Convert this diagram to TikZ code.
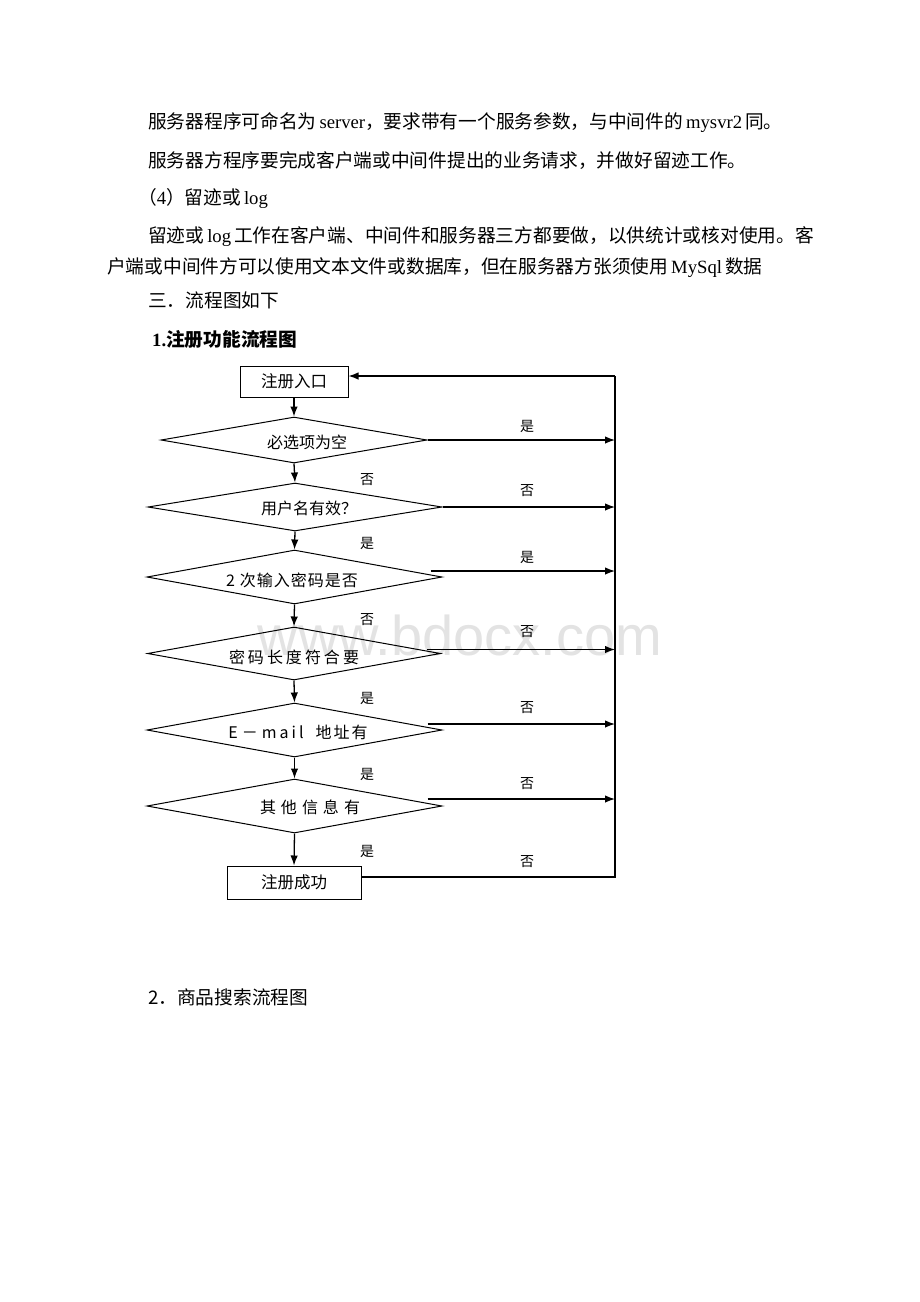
\documentclass[tikz,border=0pt]{standalone}
\usepackage{fontspec}
\setmainfont{Liberation Serif}
\newfontfamily\cjk{Noto Sans CJK SC}
\newfontfamily\wmfont{Liberation Sans}
\usetikzlibrary{shapes.geometric,arrows.meta,calc}
\begin{document}
\begin{tikzpicture}[x=1pt,y=-1pt,
  body/.style={anchor=west,inner sep=0pt,font=\fontsize{18.7}{22}\selectfont},
  fbox/.style={draw,line width=1pt,inner sep=0pt,font=\cjk\fontsize{16.5}{18}\selectfont},
  dia/.style={draw,line width=1pt,shape=diamond,inner sep=0pt,aspect=5},
  dtext/.style={inner sep=0pt,font=\cjk\fontsize{16}{18}\selectfont},
  lab/.style={inner sep=0pt,font=\cjk\fontsize{14}{15}\selectfont},
  arr/.style={line width=1.3pt,-{Latex[length=10pt,width=7.5pt]}},
  ln/.style={line width=1.3pt}]
\useasboundingbox (0,0) rectangle (920,1302);
\fill[white] (0,0) rectangle (920,1302);

% watermark
\node[anchor=base,inner sep=0pt,text=black!11,font=\wmfont\fontsize{56}{60}\selectfont] (wm) at (460,655) {www.bdocx.com};

% body text
\node[body] (l1) at (148,123) {{\cjk 服务器程序可命名为}\kern3pt server{\cjk ，要求带有一个服务参数，与中间件的}\kern3pt mysvr2\kern3pt{\cjk 同。}};
\node[body] (l2) at (148,161) {{\cjk 服务器方程序要完成客户端或中间件提出的业务请求，并做好留迹工作。}};
\node[body] (l3) at (138,199) {{\cjk （}4{\cjk ）留迹或}\kern3pt log};
\node[body] (l4) at (148,237) {{\cjk 留迹或}\kern3pt log\kern3pt{\cjk 工作在客户端、中间件和服务器三方都要做，以供统计或核对使用。客}};
\node[body] (l5) at (107,268) {{\cjk 户端或中间件方可以使用文本文件或数据库，但在服务器方张须使用}\kern3pt MySql\kern3pt{\cjk 数据}};
\node[body] (l6) at (148,300) {{\cjk 三．流程图如下}};
\node[body] (l7) at (152,339) {\bfseries 1.{\cjk\bfseries 注册功能流程图}};
\node[body] (l8) at (148,997) {{\cjk 2．商品搜索流程图}};

% flowchart nodes
\node[fbox,minimum width=108,minimum height=31] (entry) at (294,381.5) {注册入口};
\node[dia,minimum width=266,minimum height=46] (d1) at (294,440) {};
\node[dia,minimum width=294,minimum height=48] (d2) at (295,507) {};
\node[dia,minimum width=295,minimum height=54] (d3) at (294.5,577) {};
\node[dia,minimum width=293,minimum height=53] (d4) at (294,653.5) {};
\node[dia,minimum width=295,minimum height=54] (d5) at (294.5,730) {};
\node[dia,minimum width=295,minimum height=54] (d6) at (294.5,806) {};
\node[fbox,minimum width=134,minimum height=33] (succ) at (294,882.5) {注册成功};

\node[dtext] (t1) at (307,442) {必选项为空};
\node[dtext] (t2) at (309,508) {用户名有效？};
\node[dtext] (t3) at (292,580) {2\kern5pt 次\kern1pt 输\kern1pt 入\kern1pt 密\kern1pt 码\kern1pt 是\kern1pt 否};
\node[dtext] (t4) at (294,657) {密\kern3pt 码\kern3pt 长\kern3pt 度\kern3pt 符\kern3pt 合\kern3pt 要};
\node[dtext] (t5) at (298,732) {E\kern4pt －\kern4pt m\kern3pt a\kern3pt i\kern3pt l\kern12pt 地\kern2pt 址\kern2pt 有};
\node[dtext] (t6) at (310,807) {其\kern5pt 他\kern5pt 信\kern5pt 息\kern5pt 有};

% right return line
\coordinate (rt) at (615,376);
\coordinate (rb) at (615,877);

% vertical flow
\draw[arr] (entry.south) -- (d1.north);
\draw[arr] (d1.south) -- (d2.north);
\draw[arr] (d2.south) -- (d3.north);
\draw[arr] (d3.south) -- (d4.north);
\draw[arr] (d4.south) -- (d5.north);
\draw[arr] (d5.south) -- (d6.north);
\draw[arr] (d6.south) -- (succ.north);

% horizontal branches
\draw[arr] (d1.east) -- (d1.east -| rt);
\draw[arr] (d2.east) -- (d2.east -| rt);
\draw[arr] ($(d3.east)+(-12,-6)$) coordinate (a3) -- (a3 -| rt);
\draw[arr] ($(d4.east)+(-14,-4)$) coordinate (a4) -- (a4 -| rt);
\draw[arr] ($(d5.east)+(-15,-6)$) coordinate (a5) -- (a5 -| rt);
\draw[arr] ($(d6.east)+(-15,-7)$) coordinate (a6) -- (a6 -| rt);

% loop back
\draw[ln] ($(succ.east)+(0,-5.5)$) coordinate (s1) -- (rb) -- (rt);
\draw[arr] (rt) -- (entry.east |- rt);

% branch labels
\node[lab] (r1) at (527,426) {是};
\node[lab] (r2) at (527,491) {否};
\node[lab] (r3) at (527,557) {是};
\node[lab] (r4) at (527,632) {否};
\node[lab] (r5) at (527,708) {否};
\node[lab] (r6) at (527,784) {否};
\node[lab] (r7) at (527,862) {否};
\node[lab] (m1) at (367,480) {否};
\node[lab] (m2) at (367,543) {是};
\node[lab] (m3) at (367,620) {否};
\node[lab] (m4) at (367,698) {是};
\node[lab] (m5) at (367,774) {是};
\node[lab] (m6) at (367,851) {是};
\end{tikzpicture}
\end{document}
